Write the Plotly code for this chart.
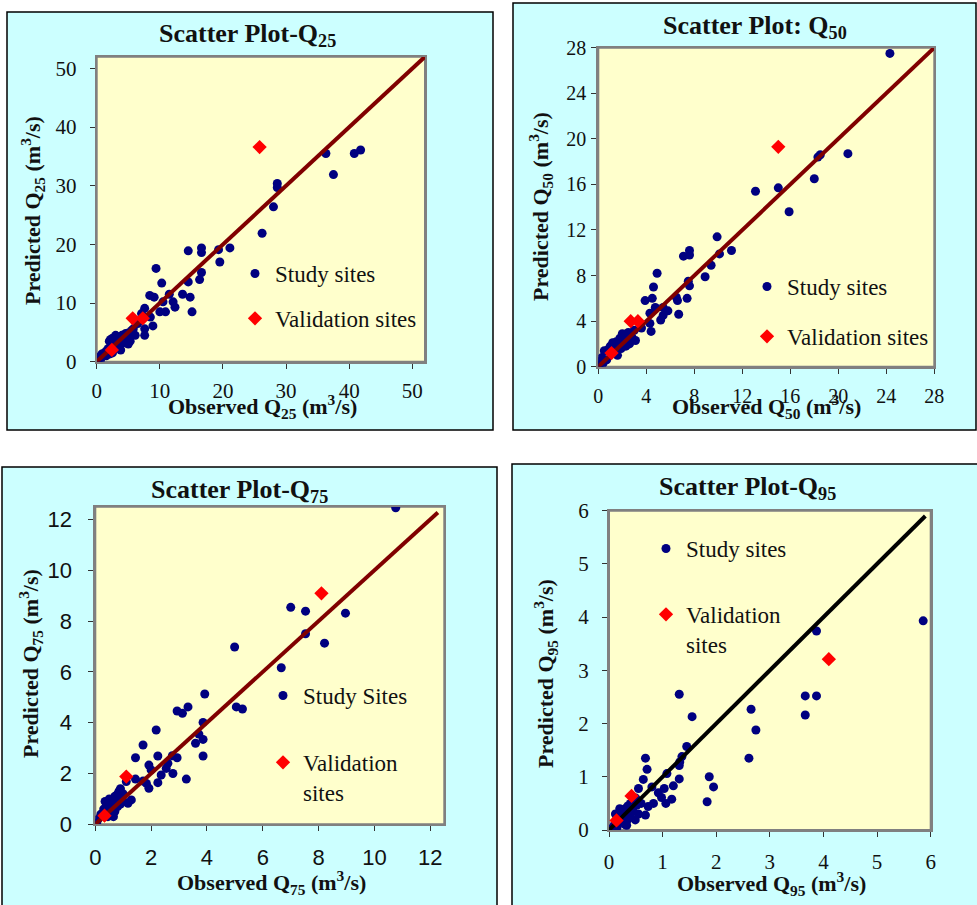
import plotly.graph_objects as go

# ---- Observed vs predicted flow quantiles (m^3/s) ----
obs25 = [36.3, 40.8, 41.8, 37.5, 28.6, 28.6, 28.0, 26.2, 16.6, 16.6, 19.3, 21.1, 19.5, 14.5, 16.6,
         16.3, 14.5, 13.6, 14.8, 15.1, 9.4, 10.3, 11.5, 8.4, 9.1, 10.5, 12.1, 12.4, 10.0, 10.9,
         7.6, 8.5, 8.9, 7.6, 7.6, 7.1, 6.1, 6.1, 6.5, 5.5, 5.0, 4.5, 4.0, 3.5, 3.0, 2.5, 2.2,
         2.0, 3.0, 3.5, 4.2, 4.8, 5.3, 5.0, 3.8, 2.8, 2.5, 1.8, 1.5, 1.2, 1.0, 0.8, 0.5, 0.3,
         0.1, 0.2, 0.6, 1.5, 2.0, 3.3, 4.0, 5.8, 4.6, 3.2]
pred25 = [35.5, 35.5, 36.1, 31.9, 30.4, 29.7, 26.4, 21.9, 19.4, 18.6, 19.1, 19.4, 17.0, 18.9, 15.2,
          14.0, 13.6, 11.5, 11.0, 8.5, 15.9, 13.4, 11.5, 11.3, 11.0, 10.2, 10.2, 9.3, 8.5, 8.5,
          9.1, 7.6, 6.1, 5.6, 4.5, 8.2, 6.9, 4.5, 6.5, 5.3, 4.9, 4.0, 4.5, 4.0, 4.5, 4.0, 3.8,
          3.5, 3.0, 2.5, 3.2, 3.5, 3.5, 3.0, 2.0, 2.2, 1.5, 2.2, 1.8, 1.5, 1.0, 1.3, 0.8, 0.4,
          0.2, 0.1, 0.3, 1.0, 1.3, 3.5, 3.8, 5.6, 4.8, 2.6]
val_obs25 = [25.8, 5.7, 7.3, 2.4]
val_pred25 = [36.6, 7.4, 7.4, 2.0]
line25 = [0, 52]

obs50 = [24.3, 20.8, 18.5, 18.3, 18.0, 15.0, 15.9, 13.1, 9.9, 10.1, 11.1, 9.4, 8.9, 7.6, 7.6,
         7.1, 7.5, 7.6, 7.4, 6.5, 6.6, 6.7, 4.9, 4.6, 4.5, 3.9, 4.75, 5.4, 5.8, 5.4, 5.2, 4.3,
         4.3, 4.4, 3.6, 3.1, 2.5, 2.2, 2.0, 1.8, 1.5, 1.2, 1.0, 0.8, 0.5, 0.3, 0.2, 0.1, 0.05,
         1.6, 1.5, 2.0, 2.4, 2.8, 2.3, 1.1, 0.7, 0.4, 3.0, 2.6, 1.9]
pred50 = [27.5, 18.7, 18.6, 18.4, 16.5, 15.7, 13.6, 15.4, 11.4, 9.9, 10.2, 8.9, 7.9, 10.2, 9.8,
          9.7, 7.5, 7.1, 6.0, 6.1, 5.8, 4.6, 8.2, 7.0, 6.0, 5.8, 5.2, 5.2, 4.9, 4.5, 4.1, 4.7,
          3.8, 3.1, 3.4, 2.3, 3.0, 2.5, 2.9, 2.5, 2.2, 2.1, 1.8, 1.5, 1.4, 0.8, 0.5, 0.2, 0.1,
          1.0, 1.6, 2.0, 2.2, 2.6, 1.8, 1.2, 0.6, 0.3, 3.2, 2.0, 1.6]
val_obs50 = [15.0, 2.7, 3.3, 1.1]
val_pred50 = [19.3, 4.0, 4.0, 1.2]
line50 = [0, 28]

obs75 = [10.76, 8.96, 8.21, 7.53, 7.0, 7.53, 6.66, 4.99, 5.05, 5.27, 3.92, 3.86, 3.86, 3.86, 3.71,
         3.59, 3.32, 3.12, 2.93, 3.26, 2.78, 2.93, 2.76, 2.60, 2.54, 2.36, 2.24, 2.18, 2.24, 1.71,
         1.44, 1.44, 1.71, 1.83, 1.92, 1.92, 2.0, 1.11, 1.29, 1.17, 0.9, 0.85, 0.8, 0.75, 0.7,
         0.6, 0.5, 0.4, 0.35, 0.3, 0.2, 0.1, 0.05, 0.6, 0.7, 0.8, 0.9, 1.0, 0.5, 0.45, 0.65,
         0.9, 1.0, 0.55]
pred75 = [12.46, 8.31, 7.13, 8.39, 8.54, 7.50, 6.16, 6.98, 4.62, 4.54, 5.13, 4.01, 3.34, 2.69, 3.55,
          3.19, 4.62, 4.37, 4.46, 1.78, 2.0, 2.62, 2.70, 2.40, 2.20, 1.94, 2.69, 3.71, 1.64, 3.12,
          2.62, 1.78, 1.70, 1.61, 1.42, 2.33, 2.14, 1.68, 0.96, 0.83, 1.4, 1.3, 1.2, 1.0, 1.1,
          0.9, 1.0, 0.8, 0.9, 0.6, 0.4, 0.2, 0.05, 0.6, 0.5, 0.7, 0.8, 0.9, 0.4, 0.3, 0.3,
          1.1, 1.2, 0.7]
val_obs75 = [8.1, 1.11, 0.33]
val_pred75 = [9.09, 1.88, 0.34]
line75 = [0, 12.27]

obs95 = [5.86, 3.87, 3.66, 3.87, 3.66, 2.65, 2.74, 2.61, 1.31, 1.55, 1.45, 1.36, 1.32, 1.31, 1.31,
         1.87, 1.95, 1.83, 1.20, 1.17, 1.08, 1.06, 1.03, 0.98, 0.92, 0.68, 0.71, 0.64, 0.80, 0.83,
         0.55, 0.68, 0.73, 0.52, 0.49, 0.33, 0.05, 0.1, 0.15, 0.2, 0.25, 0.3, 0.35, 0.4, 0.45,
         0.5, 0.6, 0.2, 0.3, 0.35, 0.4, 0.25, 0.15, 0.45, 0.55, 0.12, 0.3]
pred95 = [3.93, 3.74, 2.52, 2.52, 2.16, 2.27, 1.88, 1.35, 2.55, 2.13, 1.57, 1.38, 1.28, 1.21, 0.96,
          1.00, 0.81, 0.53, 0.83, 0.58, 1.06, 0.50, 0.78, 0.61, 0.70, 1.35, 1.14, 0.95, 0.81, 0.50,
          0.78, 0.28, 0.44, 0.47, 0.19, 0.09, 0.03, 0.1, 0.2, 0.3, 0.35, 0.4, 0.45, 0.5, 0.55,
          0.6, 0.5, 0.4, 0.25, 0.2, 0.3, 0.15, 0.05, 0.35, 0.3, 0.3, 0.1]
val_obs95 = [4.10, 0.42, 0.14]
val_pred95 = [3.21, 0.64, 0.18]
line95 = [0, 5.9]

ticks25 = [0, 10, 20, 30, 40, 50]
ticks50 = [0, 4, 8, 12, 16, 20, 24, 28]
ticks75 = [0, 2, 4, 6, 8, 10, 12]
ticks95 = [0, 1, 2, 3, 4, 5, 6]

# ---- page geometry (pixels) ----
W, H = 977, 905
def fx(px):
    return px / W
def fy(py):
    return 1 - py / H

SERIF = "Liberation Serif"
SANS = "Liberation Sans"
NAVY = "#000080"
RED = "#FF0000"
MAROON = "#800000"
CYAN = "#CCFFFF"
CREAM = "#FFFFCC"

panels = [
    dict(q="25", obs=obs25, pred=pred25, vobs=val_obs25, vpred=val_pred25, line=line25,
         lc=MAROON, rng=[0, 52], ticks=ticks25, tf=dict(family=SERIF, size=21),
         box=(96.7, 56.7, 425.0, 361.7), frame=(7, 12, 493, 430),
         title="Scatter Plot-Q", title_xy=(248, 35),
         xt_xy=(262, 406), yt_xy=(33, 211),
         study="Study sites", valid="Validation sites", leg_xy=(256, 269), gap=12,
         xstand=4, ystand=9),
    dict(q="50", obs=obs50, pred=pred50, vobs=val_obs50, vpred=val_pred50, line=line50,
         lc=MAROON, rng=[0, 28], ticks=ticks50, tf=dict(family=SERIF, size=20),
         box=(598.3, 47.7, 934.3, 366.7), frame=(513, 3, 976, 430),
         title="Scatter Plot: Q", title_xy=(755, 27),
         xt_xy=(766, 406), yt_xy=(540, 207),
         study="Study sites", valid="Validation sites", leg_xy=(768, 282), gap=17,
         xstand=5, ystand=1),
    dict(q="75", obs=obs75, pred=pred75, vobs=val_obs75, vpred=val_pred75, line=line75,
         lc=MAROON, rng=[0, 12.5], ticks=ticks75, tf=dict(family=SANS, size=22),
         box=(95.3, 506.7, 444.3, 824.3), frame=(2, 467, 497, 912),
         title="Scatter Plot-Q", title_xy=(239, 491),
         xt_xy=(271, 882), yt_xy=(30, 664),
         study="Study Sites", valid="Validation<br>sites", leg_xy=(284, 691), gap=34,
         xstand=7, ystand=12),
    dict(q="95", obs=obs95, pred=pred95, vobs=val_obs95, vpred=val_pred95, line=line95,
         lc="#000000", rng=[0, 6], ticks=ticks95, tf=dict(family=SERIF, size=21),
         box=(609.0, 510.7, 930.7, 830.0), frame=(512, 464, 982, 912),
         title="Scatter Plot-Q", title_xy=(747, 488),
         xt_xy=(771, 883), yt_xy=(545, 674),
         study="Study sites", valid="Validation<br>sites", leg_xy=(667, 544), gap=33,
         xstand=7, ystand=9),
]

fig = go.Figure()
shapes = []
annotations = []
layout = {}

for i, p in enumerate(panels, start=1):
    sfx = "" if i == 1 else str(i)
    xa, ya = "x" + sfx, "y" + sfx
    leg = "legend" + sfx
    l, t, r, b = p["box"]

    # cyan panel with black frame
    fl, ft, fr, fb = p["frame"]
    shapes.append(dict(type="rect", xref="paper", yref="paper", layer="below",
                       x0=fx(fl), x1=fx(fr), y0=fy(fb), y1=fy(ft),
                       fillcolor=CYAN, line=dict(color="#000000", width=1.5)))
    # cream plotting area
    shapes.append(dict(type="rect", xref=xa + " domain", yref=ya + " domain", layer="below",
                       x0=0, x1=1, y0=0, y1=1, fillcolor=CREAM,
                       line=dict(color="#808080", width=2)))

    axis_common = dict(range=p["rng"], tickvals=p["ticks"], ticks="outside", ticklen=5,
                       tickwidth=1, tickcolor="#333333", showgrid=False, zeroline=False,
                       showline=True, linecolor="#808080", linewidth=2, mirror=True,
                       automargin=False,
                       tickfont=dict(color="#111111", **p["tf"]), fixedrange=True)
    layout["xaxis" + sfx] = dict(domain=[fx(l), fx(r)], anchor=ya,
                                 ticklabelstandoff=p["xstand"], **axis_common)
    layout["yaxis" + sfx] = dict(domain=[fy(b), fy(t)], anchor=xa,
                                 ticklabelstandoff=p["ystand"], **axis_common)

    # study sites
    fig.add_trace(go.Scatter(x=p["obs"], y=p["pred"], mode="markers", xaxis=xa, yaxis=ya,
                             name=p["study"], legend=leg, legendgroup="s" + sfx,
                             marker=dict(color=NAVY, size=9, line=dict(width=0))))
    # 1:1 line
    fig.add_trace(go.Scatter(x=p["line"], y=p["line"], mode="lines", xaxis=xa, yaxis=ya,
                             showlegend=False, hoverinfo="skip",
                             line=dict(color=p["lc"], width=4)))
    # validation sites
    fig.add_trace(go.Scatter(x=p["vobs"], y=p["vpred"], mode="markers", xaxis=xa, yaxis=ya,
                             name=p["valid"], legend=leg, legendgroup="v" + sfx,
                             marker=dict(color=RED, size=11, symbol="diamond",
                                         line=dict(width=0))))

    lx, ly = p["leg_xy"]
    layout[leg] = dict(x=fx(lx - 21), y=fy(ly - 17), xref="paper", yref="paper",
                       xanchor="left", yanchor="top", bgcolor="rgba(0,0,0,0)",
                       borderwidth=0, itemwidth=30, tracegroupgap=p["gap"],
                       valign="top", traceorder="grouped",
                       font=dict(family=SERIF, size=23, color="#111111"))

    tx, ty = p["title_xy"]
    annotations.append(dict(text="<b>%s<sub>%s</sub></b>" % (p["title"], p["q"]),
                            x=fx(tx), y=fy(ty), xref="paper", yref="paper",
                            showarrow=False, xanchor="center", yanchor="middle",
                            font=dict(family=SERIF, size=26, color="#111111")))
    xx, xy = p["xt_xy"]
    annotations.append(dict(text="<b>Observed Q<sub>%s</sub> (m<sup>3</sup>/s)</b>" % p["q"],
                            x=fx(xx), y=fy(xy), xref="paper", yref="paper",
                            showarrow=False, xanchor="center", yanchor="middle",
                            font=dict(family=SERIF, size=22, color="#111111")))
    yx, yy = p["yt_xy"]
    annotations.append(dict(text="<b>Predicted Q<sub>%s</sub> (m<sup>3</sup>/s)</b>" % p["q"],
                            x=fx(yx), y=fy(yy), xref="paper", yref="paper", textangle=-90,
                            showarrow=False, xanchor="center", yanchor="middle",
                            font=dict(family=SERIF, size=22, color="#111111")))

fig.update_layout(width=W, height=H,
                  margin=dict(l=0, r=0, t=0, b=0, pad=0, autoexpand=False),
                  font=dict(family=SERIF, color="#111111"),
                  paper_bgcolor="#FFFFFF", plot_bgcolor="rgba(0,0,0,0)",
                  shapes=shapes, annotations=annotations, showlegend=True, **layout)

fig.write_html("out.html")
